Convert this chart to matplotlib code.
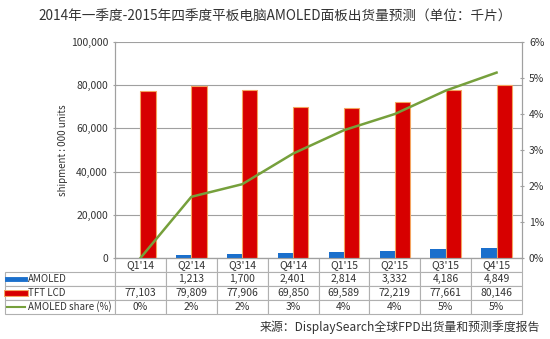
import matplotlib
matplotlib.use("Agg")
from matplotlib import pyplot as plt
from matplotlib.lines import Line2D
import numpy as np

plt.rcParams['font.family'] = ['Noto Sans CJK SC', 'DejaVu Sans']

quarters = ["Q1'14", "Q2'14", "Q3'14", "Q4'14", "Q1'15", "Q2'15", "Q3'15", "Q4'15"]
amoled = [0, 1213, 1700, 2401, 2814, 3332, 4186, 4849]
tft_lcd = [77103, 79809, 77906, 69850, 69589, 72219, 77661, 80146]
share_line = [0.0, 1.7, 2.05, 2.9, 3.55, 4.0, 4.65, 5.15]
share_labels = ["0%", "2%", "2%", "3%", "4%", "4%", "5%", "5%"]
amoled_labels = ["", "1,213", "1,700", "2,401", "2,814", "3,332", "4,186", "4,849"]
tft_labels = ["77,103", "79,809", "77,906", "69,850", "69,589", "72,219", "77,661", "80,146"]
row_names = ["AMOLED", "TFT LCD", "AMOLED share (%)"]

W, H = 550, 339
fig = plt.figure(figsize=(5.5, 3.39), dpi=100)
ax = fig.add_axes([115 / W, (H - 258) / H, 407 / W, 216 / H])

x = np.arange(len(quarters))
bw = 0.3
txt = "#333333"
gray = "#a0a0a0"

ax.bar(x - bw / 2, amoled, bw, color="#1a6fcc", zorder=3)
ax.bar(x + bw / 2, tft_lcd, bw, color="#d70000", edgecolor="#f4a460", linewidth=0.8, zorder=3)
ax.set_xlim(-0.5, len(quarters) - 0.5)
ax.set_ylim(0, 100000)
ax.set_yticks(range(0, 100001, 20000))
ax.set_yticklabels([f"{v:,}" for v in range(0, 100001, 20000)], fontsize=7.5, color=txt)
ax.set_xticks([])
ax.grid(axis="y", color=gray, linewidth=0.8, zorder=0)
ax.set_ylabel("shipment : 000 units", fontsize=7, color=txt, labelpad=2)
ax.tick_params(axis="y", color=gray, length=3, direction="inout")

ax2 = ax.twinx()
ax2.plot(x, share_line, color="#76a03c", linewidth=1.8, zorder=4)
ax2.set_ylim(0, 6)
ax2.set_yticks(range(0, 7))
ax2.set_yticklabels([f"{v}%" for v in range(0, 7)], fontsize=7.5, color=txt)
ax2.tick_params(axis="y", color=gray, length=3, direction="inout")
for a in (ax, ax2):
    for s in a.spines.values():
        s.set_color(gray)
    a.spines["top"].set_visible(False)

# data table below the plot
rows = [[""] + quarters,
        [row_names[0]] + amoled_labels,
        [row_names[1]] + tft_labels,
        [row_names[2]] + share_labels]
tb = ax.table(cellText=rows, colWidths=[110] + [407 / 8] * 8, cellLoc="center",
              bbox=[(5 - 115) / 407, -(314 - 258) / 216, 517 / 407, 56 / 216])
tb.auto_set_font_size(False)
for (r, c), cell in tb.get_celld().items():
    cell.set_edgecolor("#b0b0b0")
    cell.set_linewidth(0.8)
    cell.get_text().set_fontsize(7.5)
    cell.get_text().set_color(txt)
    if c == 0:
        cell.get_text().set_ha("left")
        cell.get_text().set_fontsize(7)
        cell.PAD = 0.21
    if r == 0 and c == 0:
        cell.visible_edges = ""

# legend swatches inside the table
def px(xp, yp):
    return ((xp - 115) / 407, (258 - yp) / 216)

for yp, col, ec, lw in [(279, "#1a6fcc", None, 3.5), (293, "#d70000", "#f4a460", 3.5), (307, "#76a03c", None, 1.5)]:
    (x0, y0), (x1, _) = px(7, yp), px(25, yp)
    if ec:
        ax.add_line(Line2D([x0, x1], [y0, y0], transform=ax.transAxes, color=ec,
                           linewidth=lw + 1.5, clip_on=False, zorder=5))
    ax.add_line(Line2D([x0, x1], [y0, y0], transform=ax.transAxes, color=col,
                       linewidth=lw, clip_on=False, zorder=6))

fig.text(0.5, 1 - 17 / H, "2014年一季度-2015年四季度平板电脑AMOLED面板出货量预测（单位：千片）",
         ha="center", va="center", fontsize=9.8, color=txt)
fig.text(540 / W, 1 - 327 / H, "来源：DisplaySearch全球FPD出货量和预测季度报告",
         ha="right", va="center", fontsize=8.6, color=txt)

fig.savefig("out.png", dpi=100)
